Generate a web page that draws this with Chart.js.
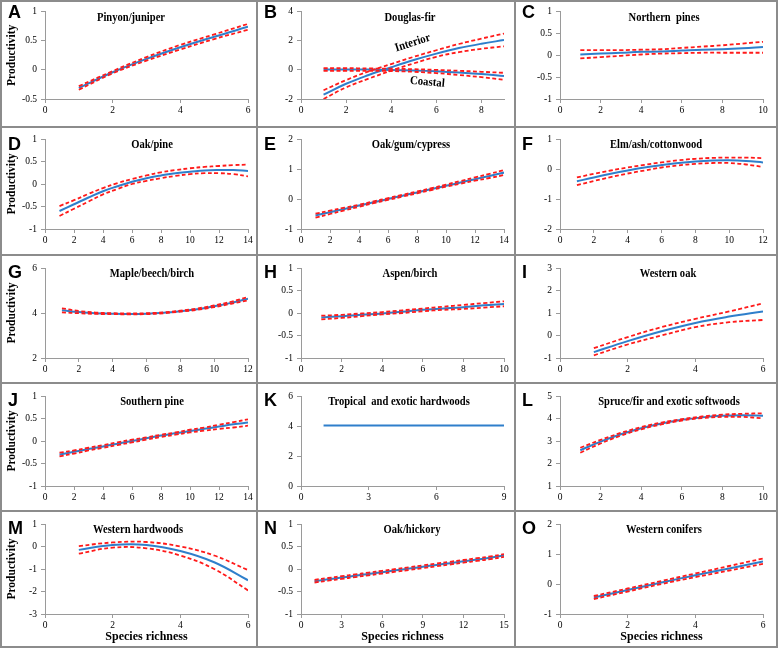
<!DOCTYPE html>
<html>
<head>
<meta charset="utf-8">
<script src="https://cdn.jsdelivr.net/npm/chart.js@4.4.1/dist/chart.umd.min.js"></script>
<style>
    body { margin: 0; background: #fff; }
    #fig { position: relative; width: 778px; height: 648px; background: #8c8c8c; }
    .panel { position: absolute; background: #fff; }
    .panel canvas { position: absolute; left: 0; top: 0; }
</style>
</head>
<body>
<div id="fig"></div>
<script>
// Productivity vs species richness, 15 forest type groups

// A - Pinyon/juniper
const richA = [1, 2, 3, 4, 5, 6];
const fitA = [-0.31, -0.04, 0.19, 0.39, 0.57, 0.74];
const upA = [-0.28, -0.02, 0.22, 0.43, 0.61, 0.79];
const loA = [-0.34, -0.06, 0.16, 0.35, 0.53, 0.69];

// B - Douglas-fir (interior and coastal)
const richB = [1, 2, 3, 4, 5, 6, 7, 8, 9];
const fitBInt = [-1.7, -0.95, -0.35, 0.18, 0.68, 1.12, 1.5, 1.8, 2.05];
const upBInt = [-1.4, -0.7, -0.1, 0.4, 0.9, 1.35, 1.78, 2.15, 2.5];
const loBInt = [-2.0, -1.2, -0.6, -0.05, 0.45, 0.9, 1.22, 1.45, 1.62];
const fitBCoa = [0.03, 0.03, 0.02, 0.0, -0.04, -0.1, -0.18, -0.28, -0.42];
const upBCoa = [0.12, 0.12, 0.1, 0.08, 0.05, 0.0, -0.06, -0.13, -0.2];
const loBCoa = [-0.06, -0.06, -0.06, -0.08, -0.13, -0.22, -0.35, -0.5, -0.68];

// C - Northern pines
const richC = [1, 2, 3, 4, 5, 6, 7, 8, 9, 10];
const fitC = [0.02, 0.04, 0.06, 0.08, 0.09, 0.11, 0.13, 0.14, 0.16, 0.19];
const upC = [0.12, 0.12, 0.12, 0.13, 0.14, 0.17, 0.2, 0.23, 0.27, 0.31];
const loC = [-0.07, -0.04, -0.01, 0.02, 0.04, 0.05, 0.06, 0.06, 0.06, 0.06];

// D - Oak/pine
const richD = [1, 2, 3, 4, 5, 6, 7, 8, 9, 10, 11, 12, 13, 14];
const fitD = [-0.6, -0.45, -0.3, -0.16, -0.05, 0.05, 0.13, 0.19, 0.24, 0.27, 0.3, 0.31, 0.31, 0.29];
const upD = [-0.49, -0.36, -0.22, -0.09, 0.02, 0.11, 0.19, 0.26, 0.31, 0.35, 0.38, 0.4, 0.42, 0.43];
const loD = [-0.71, -0.55, -0.39, -0.23, -0.11, 0.0, 0.07, 0.13, 0.18, 0.22, 0.24, 0.24, 0.22, 0.17];

// E - Oak/gum/cypress
const richE = [1, 2, 3, 4, 5, 6, 7, 8, 9, 10, 11, 12, 13, 14];
const fitE = [-0.55, -0.44, -0.33, -0.22, -0.11, 0.0, 0.11, 0.22, 0.33, 0.44, 0.55, 0.66, 0.77, 0.88];
const upE = [-0.49, -0.39, -0.29, -0.19, -0.08, 0.03, 0.14, 0.25, 0.36, 0.48, 0.6, 0.72, 0.84, 0.96];
const loE = [-0.62, -0.5, -0.38, -0.26, -0.14, -0.03, 0.08, 0.19, 0.3, 0.41, 0.51, 0.61, 0.7, 0.8];

// F - Elm/ash/cottonwood
const richF = [1, 2, 3, 4, 5, 6, 7, 8, 9, 10, 11, 12];
const fitF = [-0.41, -0.28, -0.16, -0.05, 0.05, 0.13, 0.2, 0.25, 0.28, 0.29, 0.27, 0.22];
const upF = [-0.28, -0.16, -0.05, 0.05, 0.14, 0.22, 0.29, 0.34, 0.37, 0.38, 0.38, 0.36];
const loF = [-0.54, -0.4, -0.27, -0.15, -0.05, 0.05, 0.12, 0.17, 0.2, 0.2, 0.15, 0.07];

// G - Maple/beech/birch
const richG = [1, 2, 3, 4, 5, 6, 7, 8, 9, 10, 11, 12];
const fitG = [4.12, 4.04, 3.99, 3.97, 3.96, 3.97, 4.01, 4.08, 4.17, 4.3, 4.45, 4.64];
const upG = [4.21, 4.09, 4.02, 3.99, 3.98, 3.99, 4.03, 4.1, 4.2, 4.34, 4.5, 4.71];
const loG = [4.03, 3.99, 3.96, 3.95, 3.94, 3.95, 3.99, 4.06, 4.14, 4.26, 4.41, 4.56];

// H - Aspen/birch
const richH = [1, 2, 3, 4, 5, 6, 7, 8, 9, 10];
const fitH = [-0.1, -0.07, -0.04, -0.01, 0.03, 0.07, 0.1, 0.13, 0.17, 0.2];
const upH = [-0.06, -0.04, -0.01, 0.02, 0.06, 0.1, 0.14, 0.18, 0.22, 0.26];
const loH = [-0.14, -0.11, -0.07, -0.03, 0.0, 0.04, 0.07, 0.09, 0.12, 0.15];

// I - Western oak
const richI = [1, 2, 3, 4, 5, 6];
const fitI = [-0.74, -0.25, 0.19, 0.56, 0.84, 1.07];
const upI = [-0.56, -0.07, 0.37, 0.74, 1.07, 1.43];
const loI = [-0.88, -0.4, 0.0, 0.37, 0.59, 0.69];

// J - Southern pine
const richJ = [1, 2, 3, 4, 5, 6, 7, 8, 9, 10, 11, 12, 13, 14];
const fitJ = [-0.3, -0.24, -0.18, -0.12, -0.06, 0.0, 0.06, 0.12, 0.17, 0.22, 0.27, 0.32, 0.37, 0.41];
const upJ = [-0.26, -0.21, -0.15, -0.09, -0.03, 0.03, 0.08, 0.14, 0.19, 0.25, 0.3, 0.36, 0.42, 0.48];
const loJ = [-0.34, -0.28, -0.21, -0.15, -0.09, -0.03, 0.03, 0.09, 0.14, 0.19, 0.23, 0.27, 0.3, 0.34];

// K - Tropical and exotic hardwoods
const richK = [1, 3, 6, 9];
const fitK = [4.03, 4.03, 4.03, 4.03];

// L - Spruce/fir and exotic softwoods
const richL = [1, 2, 3, 4, 5, 6, 7, 8, 9, 10];
const fitL = [2.59, 2.97, 3.3, 3.57, 3.78, 3.94, 4.05, 4.12, 4.14, 4.12];
const upL = [2.7, 3.05, 3.36, 3.62, 3.82, 3.97, 4.09, 4.17, 4.21, 4.23];
const loL = [2.48, 2.89, 3.24, 3.52, 3.74, 3.91, 4.02, 4.07, 4.07, 4.01];

// M - Western hardwoods
const richM = [1, 2, 3, 4, 5, 6];
const fitM = [-0.15, 0.07, 0.07, -0.2, -0.7, -1.5];
const upM = [0.02, 0.18, 0.2, 0.0, -0.4, -1.05];
const loM = [-0.32, -0.05, -0.08, -0.4, -1.0, -1.95];

// N - Oak/hickory
const richN = [1, 2, 3, 4, 5, 6, 7, 8, 9, 10, 11, 12, 13, 14, 15];
const fitN = [-0.27, -0.23, -0.19, -0.15, -0.11, -0.07, -0.03, 0.01, 0.05, 0.09, 0.13, 0.17, 0.21, 0.25, 0.3];
const upN = [-0.24, -0.2, -0.16, -0.12, -0.08, -0.04, 0.0, 0.04, 0.08, 0.12, 0.16, 0.2, 0.24, 0.28, 0.33];
const loN = [-0.3, -0.26, -0.22, -0.18, -0.14, -0.1, -0.06, -0.02, 0.02, 0.06, 0.1, 0.14, 0.18, 0.22, 0.27];

// O - Western conifers
const richO = [1, 2, 3, 4, 5, 6];
const fitO = [-0.45, -0.2, 0.05, 0.29, 0.52, 0.75];
const upO = [-0.4, -0.15, 0.1, 0.35, 0.6, 0.85];
const loO = [-0.5, -0.25, 0.0, 0.23, 0.45, 0.67];

// tick labels
const xTicks6 = [0, 2, 4, 6];
const xTicks8 = [0, 2, 4, 6, 8];
const xTicks10 = [0, 2, 4, 6, 8, 10];
const xTicks12 = [0, 2, 4, 6, 8, 10, 12];
const xTicks14 = [0, 2, 4, 6, 8, 10, 12, 14];
const xTicks9by3 = [0, 3, 6, 9];
const xTicks15by3 = [0, 3, 6, 9, 12, 15];
const yTicksHalf = [-1, -0.5, 0, 0.5, 1];
const yTicksA = [-0.5, 0, 0.5, 1];
const yTicksB = [-2, 0, 2, 4];
const yTicksE = [-1, 0, 1, 2];
const yTicksF = [-2, -1, 0, 1];
const yTicksG = [2, 4, 6];
const yTicksI = [-1, 0, 1, 2, 3];
const yTicksK = [0, 2, 4, 6];
const yTicksL = [1, 2, 3, 4, 5];
const yTicksM = [-3, -2, -1, 0, 1];

// grid geometry (page pixels)
const cols = [
    { x: 2, w: 254, axis: 45, right: 248 },
    { x: 258, w: 256, axis: 301, right: 504 },
    { x: 516, w: 260, axis: 560, right: 763 }
];
const rows = [
    { y: 2, h: 124, top: 10, bottom: 99, letterY: 16 },
    { y: 128, h: 126, top: 139, bottom: 229, letterY: 22 },
    { y: 256, h: 126, top: 268, bottom: 358, letterY: 22 },
    { y: 384, h: 126, top: 396, bottom: 486, letterY: 22 },
    { y: 512, h: 134, top: 524, bottom: 614, letterY: 22 }
];

const BLUE = '#2f7fcb';
const RED = '#ff1a1a';
const AXIS = '#9a9a9a';
const SERIF = '"Liberation Serif", "Times New Roman", serif';

const panels = [
    { letter: 'A', title: 'Pinyon/juniper', titleX: 129, xTicks: xTicks6, xMax: 6, yTicks: yTicksA,
      series: [[richA, fitA, upA, loA]] },
    { letter: 'B', title: 'Douglas-fir', titleX: 152, xTicks: xTicks8, xMax: 9, yTicks: yTicksB,
      series: [[richB, fitBInt, upBInt, loBInt], [richB, fitBCoa, upBCoa, loBCoa]],
      notes: [{ text: 'Interior', x: 4.95, y: 1.85, angle: -18 }, { text: 'Coastal', x: 5.6, y: -0.85, angle: 5 }] },
    { letter: 'C', title: 'Northern  pines', titleX: 148, xTicks: xTicks10, xMax: 10, yTicks: yTicksHalf,
      series: [[richC, fitC, upC, loC]] },
    { letter: 'D', title: 'Oak/pine', titleX: 150, xTicks: xTicks14, xMax: 14, yTicks: yTicksHalf,
      series: [[richD, fitD, upD, loD]] },
    { letter: 'E', title: 'Oak/gum/cypress', titleX: 153, xTicks: xTicks14, xMax: 14, yTicks: yTicksE,
      series: [[richE, fitE, upE, loE]] },
    { letter: 'F', title: 'Elm/ash/cottonwood', titleX: 140, xTicks: xTicks12, xMax: 12, yTicks: yTicksF,
      series: [[richF, fitF, upF, loF]] },
    { letter: 'G', title: 'Maple/beech/birch', titleX: 150, xTicks: xTicks12, xMax: 12, yTicks: yTicksG,
      series: [[richG, fitG, upG, loG]] },
    { letter: 'H', title: 'Aspen/birch', titleX: 152, xTicks: xTicks10, xMax: 10, yTicks: yTicksHalf,
      series: [[richH, fitH, upH, loH]] },
    { letter: 'I', title: 'Western oak', titleX: 152, xTicks: xTicks6, xMax: 6, yTicks: yTicksI,
      series: [[richI, fitI, upI, loI]] },
    { letter: 'J', title: 'Southern pine', titleX: 150, xTicks: xTicks14, xMax: 14, yTicks: yTicksHalf,
      series: [[richJ, fitJ, upJ, loJ]] },
    { letter: 'K', title: 'Tropical  and exotic hardwoods', titleX: 141, xTicks: xTicks9by3, xMax: 9, yTicks: yTicksK,
      series: [[richK, fitK, null, null]] },
    { letter: 'L', title: 'Spruce/fir and exotic softwoods', titleX: 153, xTicks: xTicks10, xMax: 10, yTicks: yTicksL,
      series: [[richL, fitL, upL, loL]] },
    { letter: 'M', title: 'Western hardwoods', titleX: 136, xTicks: xTicks6, xMax: 6, yTicks: yTicksM,
      series: [[richM, fitM, upM, loM]] },
    { letter: 'N', title: 'Oak/hickory', titleX: 154, xTicks: xTicks15by3, xMax: 15, yTicks: yTicksHalf,
      series: [[richN, fitN, upN, loN]] },
    { letter: 'O', title: 'Western conifers', titleX: 148, xTicks: xTicks6, xMax: 6, yTicks: yTicksE,
      series: [[richO, fitO, upO, loO]] }
];

function points(xs, ys) {
    return xs.map((x, i) => ({ x: x, y: ys[i] }));
}

// letters, panel titles and the Interior/Coastal notes
const panelText = {
    id: 'panelText',
    afterDraw(chart, args, opts) {
        const ctx = chart.ctx;
        ctx.save();
        ctx.fillStyle = '#000';
        ctx.font = 'bold 18px "Liberation Sans", Arial, sans-serif';
        ctx.textAlign = 'left';
        ctx.textBaseline = 'alphabetic';
        ctx.fillText(opts.letter, 6, opts.letterY);

        ctx.font = 'bold 12px ' + SERIF;
        ctx.textAlign = 'center';
        ctx.textBaseline = 'middle';
        ctx.save();
        ctx.translate(opts.titleX, chart.chartArea.top + 6);
        ctx.scale(0.88, 1);
        ctx.fillText(opts.title, 0, 0);
        ctx.restore();

        (opts.notes || []).forEach(n => {
            const x = chart.scales.x.getPixelForValue(n.x);
            const y = chart.scales.y.getPixelForValue(n.y);
            ctx.save();
            ctx.translate(x, y);
            ctx.rotate(n.angle * Math.PI / 180);
            ctx.scale(0.9, 1);
            ctx.fillText(n.text, 0, 0);
            ctx.restore();
        });
        ctx.restore();
    }
};

function makePanel(p, idx) {
    const col = cols[idx % 3];
    const row = rows[Math.floor(idx / 3)];
    const firstCol = idx % 3 === 0;
    const lastRow = Math.floor(idx / 3) === 4;

    const div = document.createElement('div');
    div.className = 'panel';
    div.style.left = col.x + 'px';
    div.style.top = row.y + 'px';
    div.style.width = col.w + 'px';
    div.style.height = row.h + 'px';
    const cv = document.createElement('canvas');
    cv.width = col.w;
    cv.height = row.h;
    cv.style.width = col.w + 'px';
    cv.style.height = row.h + 'px';
    div.appendChild(cv);
    document.getElementById('fig').appendChild(div);

    // red bounds first so they are drawn on top of the blue fit
    const datasets = [];
    p.series.forEach(s => {
        if (s[2]) datasets.push({ data: points(s[0], s[2]), borderColor: RED, borderWidth: 1.8, borderDash: [4, 2.5] });
        if (s[3]) datasets.push({ data: points(s[0], s[3]), borderColor: RED, borderWidth: 1.8, borderDash: [4, 2.5] });
    });
    p.series.forEach(s => {
        datasets.push({ data: points(s[0], s[1]), borderColor: BLUE, borderWidth: 2 });
    });

    const tickFont = { family: SERIF, size: 9.5 };

    new Chart(cv, {
        type: 'line',
        data: { datasets: datasets },
        options: {
            responsive: false,
            animation: false,
            layout: {
                padding: { top: row.top - row.y, right: col.x + col.w - col.right, bottom: 0, left: 0 }
            },
            elements: {
                point: { radius: 0 },
                line: { tension: 0.4, fill: false }
            },
            plugins: {
                legend: { display: false },
                tooltip: { enabled: false },
                panelText: { letter: p.letter, letterY: row.letterY, title: p.title, titleX: p.titleX, notes: p.notes }
            },
            scales: {
                x: {
                    type: 'linear',
                    min: 0,
                    max: p.xMax,
                    afterBuildTicks: s => { s.ticks = p.xTicks.map(v => ({ value: v })); },
                    afterFit: s => { s.height = row.y + row.h - row.bottom; },
                    grid: { drawOnChartArea: false, tickLength: 4, color: AXIS },
                    border: { color: AXIS, width: 1 },
                    ticks: { font: tickFont, color: '#000', padding: 2, maxRotation: 0, autoSkip: false,
                             callback: v => String(v) },
                    title: { display: lastRow, text: 'Species richness', color: '#000',
                             font: { family: SERIF, size: 12, weight: 'bold' }, padding: { top: 0, bottom: 2 } }
                },
                y: {
                    min: p.yTicks[0],
                    max: p.yTicks[p.yTicks.length - 1],
                    afterBuildTicks: s => { s.ticks = p.yTicks.map(v => ({ value: v })); },
                    afterFit: s => { s.width = col.axis - col.x; },
                    grid: { drawOnChartArea: false, tickLength: 4, color: AXIS },
                    border: { color: AXIS, width: 1 },
                    ticks: { font: tickFont, color: '#000', padding: 4, autoSkip: false,
                             callback: v => String(v) },
                    title: { display: firstCol, text: 'Productivity', color: '#000',
                             font: { family: SERIF, size: 11.5, weight: 'bold' }, padding: { top: 3, bottom: 0 } }
                }
            }
        },
        plugins: [panelText]
    });
}

panels.forEach(makePanel);
</script>
</body>
</html>
